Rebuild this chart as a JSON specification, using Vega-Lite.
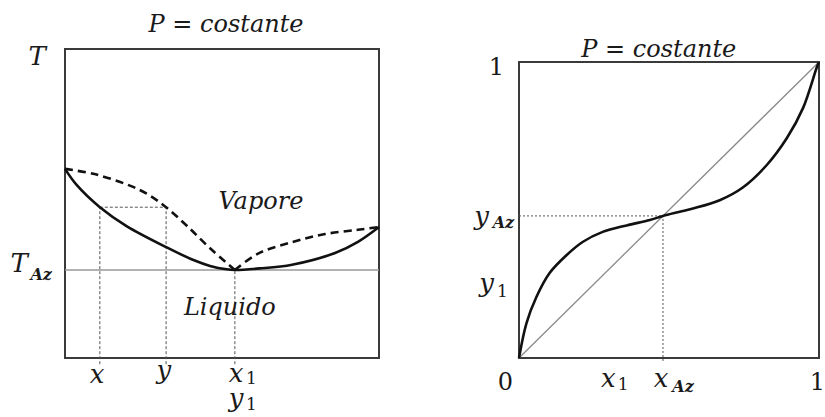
{
  "$schema": "https://vega.github.io/schema/vega-lite/v6.json",
  "background": "white",
  "padding": {"left": 10, "top": 13, "right": 0, "bottom": 0},
  "bounds": "flush",
  "spacing": 140,
  "config": {"view": {"stroke": null}},
  "datasets": {
    "liquidLeft": [
      {"x": 0.0, "y": 0.612},
      {"x": 0.037, "y": 0.56},
      {"x": 0.111, "y": 0.488},
      {"x": 0.196, "y": 0.427},
      {"x": 0.324, "y": 0.358},
      {"x": 0.409, "y": 0.317},
      {"x": 0.462, "y": 0.298},
      {"x": 0.515, "y": 0.287},
      {"x": 0.541, "y": 0.285},
      {"x": 0.62, "y": 0.29},
      {"x": 0.723, "y": 0.302},
      {"x": 0.86, "y": 0.34},
      {"x": 0.933, "y": 0.376},
      {"x": 1.0, "y": 0.424}
    ],
    "vaporLeft": [
      {"branch": "a", "x": 0.0, "y": 0.612},
      {"branch": "a", "x": 0.09, "y": 0.596},
      {"branch": "a", "x": 0.196, "y": 0.562},
      {"branch": "a", "x": 0.26, "y": 0.532},
      {"branch": "a", "x": 0.322, "y": 0.488},
      {"branch": "a", "x": 0.388, "y": 0.428},
      {"branch": "a", "x": 0.462, "y": 0.355},
      {"branch": "a", "x": 0.541, "y": 0.285},
      {"branch": "b", "x": 0.541, "y": 0.285},
      {"branch": "b", "x": 0.615, "y": 0.338},
      {"branch": "b", "x": 0.723, "y": 0.375},
      {"branch": "b", "x": 0.828, "y": 0.401},
      {"branch": "b", "x": 0.933, "y": 0.415},
      {"branch": "b", "x": 1.0, "y": 0.424}
    ],
    "xyRight": [
      {"x": 0.0, "y": 0.0},
      {"x": 0.025, "y": 0.118},
      {"x": 0.058, "y": 0.206},
      {"x": 0.102, "y": 0.287},
      {"x": 0.159, "y": 0.348},
      {"x": 0.212, "y": 0.392},
      {"x": 0.279, "y": 0.426},
      {"x": 0.359, "y": 0.448},
      {"x": 0.436, "y": 0.466},
      {"x": 0.48, "y": 0.48},
      {"x": 0.536, "y": 0.494},
      {"x": 0.58, "y": 0.505},
      {"x": 0.669, "y": 0.533},
      {"x": 0.746, "y": 0.576},
      {"x": 0.826, "y": 0.652},
      {"x": 0.893, "y": 0.743},
      {"x": 0.947, "y": 0.845},
      {"x": 0.993, "y": 0.983},
      {"x": 1.0, "y": 1.0}
    ]
  },
  "hconcat": [
    {
      "width": 314,
      "height": 309,
      "encoding": {
        "x": {"field": "x", "type": "quantitative", "scale": {"domain": [0, 1], "nice": false, "zero": false}, "axis": null},
        "y": {"field": "y", "type": "quantitative", "scale": {"domain": [0, 1], "nice": false, "zero": false}, "axis": null}
      },
      "layer": [
        {
          "data": {"values": [{"x": 0, "y": 0, "x2": 1, "y2": 1}]},
          "mark": {"type": "rect", "fillOpacity": 0, "stroke": "#3a3a3a", "strokeWidth": 2},
          "encoding": {"x2": {"field": "x2"}, "y2": {"field": "y2"}}
        },
        {
          "data": {"values": [{"x": 0, "y": 0.285, "x2": 1}]},
          "mark": {"type": "rule", "stroke": "#999999", "strokeWidth": 1.6},
          "encoding": {"x2": {"field": "x2"}}
        },
        {
          "data": {"values": [
            {"x": 0.111, "y": 0.488, "x2": 0.322, "y2": 0.488},
            {"x": 0.111, "y": -0.02, "x2": 0.111, "y2": 0.488},
            {"x": 0.322, "y": -0.02, "x2": 0.322, "y2": 0.488},
            {"x": 0.541, "y": -0.02, "x2": 0.541, "y2": 0.285}
          ]},
          "mark": {"type": "rule", "stroke": "#555555", "strokeWidth": 1, "strokeDash": [3, 2]},
          "encoding": {"x2": {"field": "x2"}, "y2": {"field": "y2"}}
        },
        {
          "data": {"name": "liquidLeft"},
          "mark": {"type": "line", "interpolate": "catmull-rom", "color": "#111111", "strokeWidth": 2.6},
          "encoding": {}
        },
        {
          "data": {"name": "vaporLeft"},
          "mark": {"type": "line", "interpolate": "catmull-rom", "color": "#111111", "strokeWidth": 2.6, "strokeDash": [8, 5]},
          "encoding": {"detail": {"field": "branch"}}
        },
        {
          "data": {"values": [
            {"label": "P = costante", "x": 0.513, "y": 1.055},
            {"label": "Vapore", "x": 0.624, "y": 0.482},
            {"label": "Liquido", "x": 0.525, "y": 0.139}
          ]},
          "mark": {"type": "text", "font": "DejaVu Serif", "fontStyle": "italic", "fontSize": 24, "align": "center", "baseline": "alphabetic", "color": "#1a1a1a"},
          "encoding": {"text": {"field": "label"}}
        },
        {
          "data": {"values": [
            {"label": "T", "x": -0.089, "y": 0.948},
            {"label": "T", "x": -0.146, "y": 0.278},
            {"label": "x", "x": 0.102, "y": -0.081},
            {"label": "y", "x": 0.315, "y": -0.068},
            {"label": ["x", "y"], "x": 0.545, "y": -0.078}
          ]},
          "mark": {"type": "text", "font": "DejaVu Serif", "fontStyle": "italic", "fontSize": 26, "lineHeight": 25, "align": "center", "baseline": "alphabetic", "color": "#1a1a1a"},
          "encoding": {"text": {"field": "label"}}
        },
        {
          "data": {"values": [
            {"label": "Az", "x": -0.076, "y": 0.252}
          ]},
          "mark": {"type": "text", "font": "DejaVu Serif", "fontStyle": "italic", "fontWeight": "bold", "fontSize": 16, "align": "center", "baseline": "alphabetic", "color": "#1a1a1a"},
          "encoding": {"text": {"field": "label"}}
        },
        {
          "data": {"values": [
            {"label": ["1", "1"], "x": 0.594, "y": -0.084}
          ]},
          "mark": {"type": "text", "font": "DejaVu Serif", "fontSize": 17, "lineHeight": 26, "align": "center", "baseline": "alphabetic", "color": "#1a1a1a"},
          "encoding": {"text": {"field": "label"}}
        }
      ]
    },
    {
      "width": 300,
      "height": 309,
      "encoding": {
        "x": {"field": "x", "type": "quantitative", "scale": {"domain": [0, 1], "nice": false, "zero": false}, "axis": null},
        "y": {"field": "y", "type": "quantitative", "scale": {"domain": [0, 1.0439], "nice": false, "zero": false}, "axis": null}
      },
      "layer": [
        {
          "data": {"values": [{"x": 0, "y": 0, "x2": 1, "y2": 1}]},
          "mark": {"type": "rect", "fillOpacity": 0, "stroke": "#3a3a3a", "strokeWidth": 2},
          "encoding": {"x2": {"field": "x2"}, "y2": {"field": "y2"}}
        },
        {
          "data": {"values": [{"x": 0, "y": 0, "x2": 1, "y2": 1}]},
          "mark": {"type": "rule", "stroke": "#8a8a8a", "strokeWidth": 1.3},
          "encoding": {"x2": {"field": "x2"}, "y2": {"field": "y2"}}
        },
        {
          "data": {"values": [
            {"x": 0, "y": 0.48, "x2": 0.48, "y2": 0.48},
            {"x": 0.48, "y": -0.01, "x2": 0.48, "y2": 0.48}
          ]},
          "mark": {"type": "rule", "stroke": "#555555", "strokeWidth": 1, "strokeDash": [2, 2]},
          "encoding": {"x2": {"field": "x2"}, "y2": {"field": "y2"}}
        },
        {
          "data": {"name": "xyRight"},
          "mark": {"type": "line", "interpolate": "catmull-rom", "color": "#111111", "strokeWidth": 2.6},
          "encoding": {}
        },
        {
          "data": {"values": [
            {"label": "P = costante", "x": 0.466, "y": 1.017}
          ]},
          "mark": {"type": "text", "font": "DejaVu Serif", "fontStyle": "italic", "fontSize": 24, "align": "center", "baseline": "alphabetic", "color": "#1a1a1a"},
          "encoding": {"text": {"field": "label"}}
        },
        {
          "data": {"values": [
            {"label": "1", "x": -0.075, "y": 0.956},
            {"label": "0", "x": -0.045, "y": -0.108},
            {"label": "1", "x": 0.995, "y": -0.108}
          ]},
          "mark": {"type": "text", "font": "DejaVu Serif", "fontSize": 24, "align": "center", "baseline": "alphabetic", "color": "#1a1a1a"},
          "encoding": {"text": {"field": "label"}}
        },
        {
          "data": {"values": [
            {"label": "y", "x": -0.125, "y": 0.449},
            {"label": "y", "x": -0.108, "y": 0.223},
            {"label": "x", "x": 0.298, "y": -0.098},
            {"label": "x", "x": 0.474, "y": -0.098}
          ]},
          "mark": {"type": "text", "font": "DejaVu Serif", "fontStyle": "italic", "fontSize": 26, "align": "center", "baseline": "alphabetic", "color": "#1a1a1a"},
          "encoding": {"text": {"field": "label"}}
        },
        {
          "data": {"values": [
            {"label": "Az", "x": -0.052, "y": 0.439},
            {"label": "Az", "x": 0.547, "y": -0.115}
          ]},
          "mark": {"type": "text", "font": "DejaVu Serif", "fontStyle": "italic", "fontWeight": "bold", "fontSize": 16, "align": "center", "baseline": "alphabetic", "color": "#1a1a1a"},
          "encoding": {"text": {"field": "label"}}
        },
        {
          "data": {"values": [
            {"label": "1", "x": -0.055, "y": 0.206},
            {"label": "1", "x": 0.347, "y": -0.108}
          ]},
          "mark": {"type": "text", "font": "DejaVu Serif", "fontSize": 17, "align": "center", "baseline": "alphabetic", "color": "#1a1a1a"},
          "encoding": {"text": {"field": "label"}}
        }
      ]
    }
  ]
}
